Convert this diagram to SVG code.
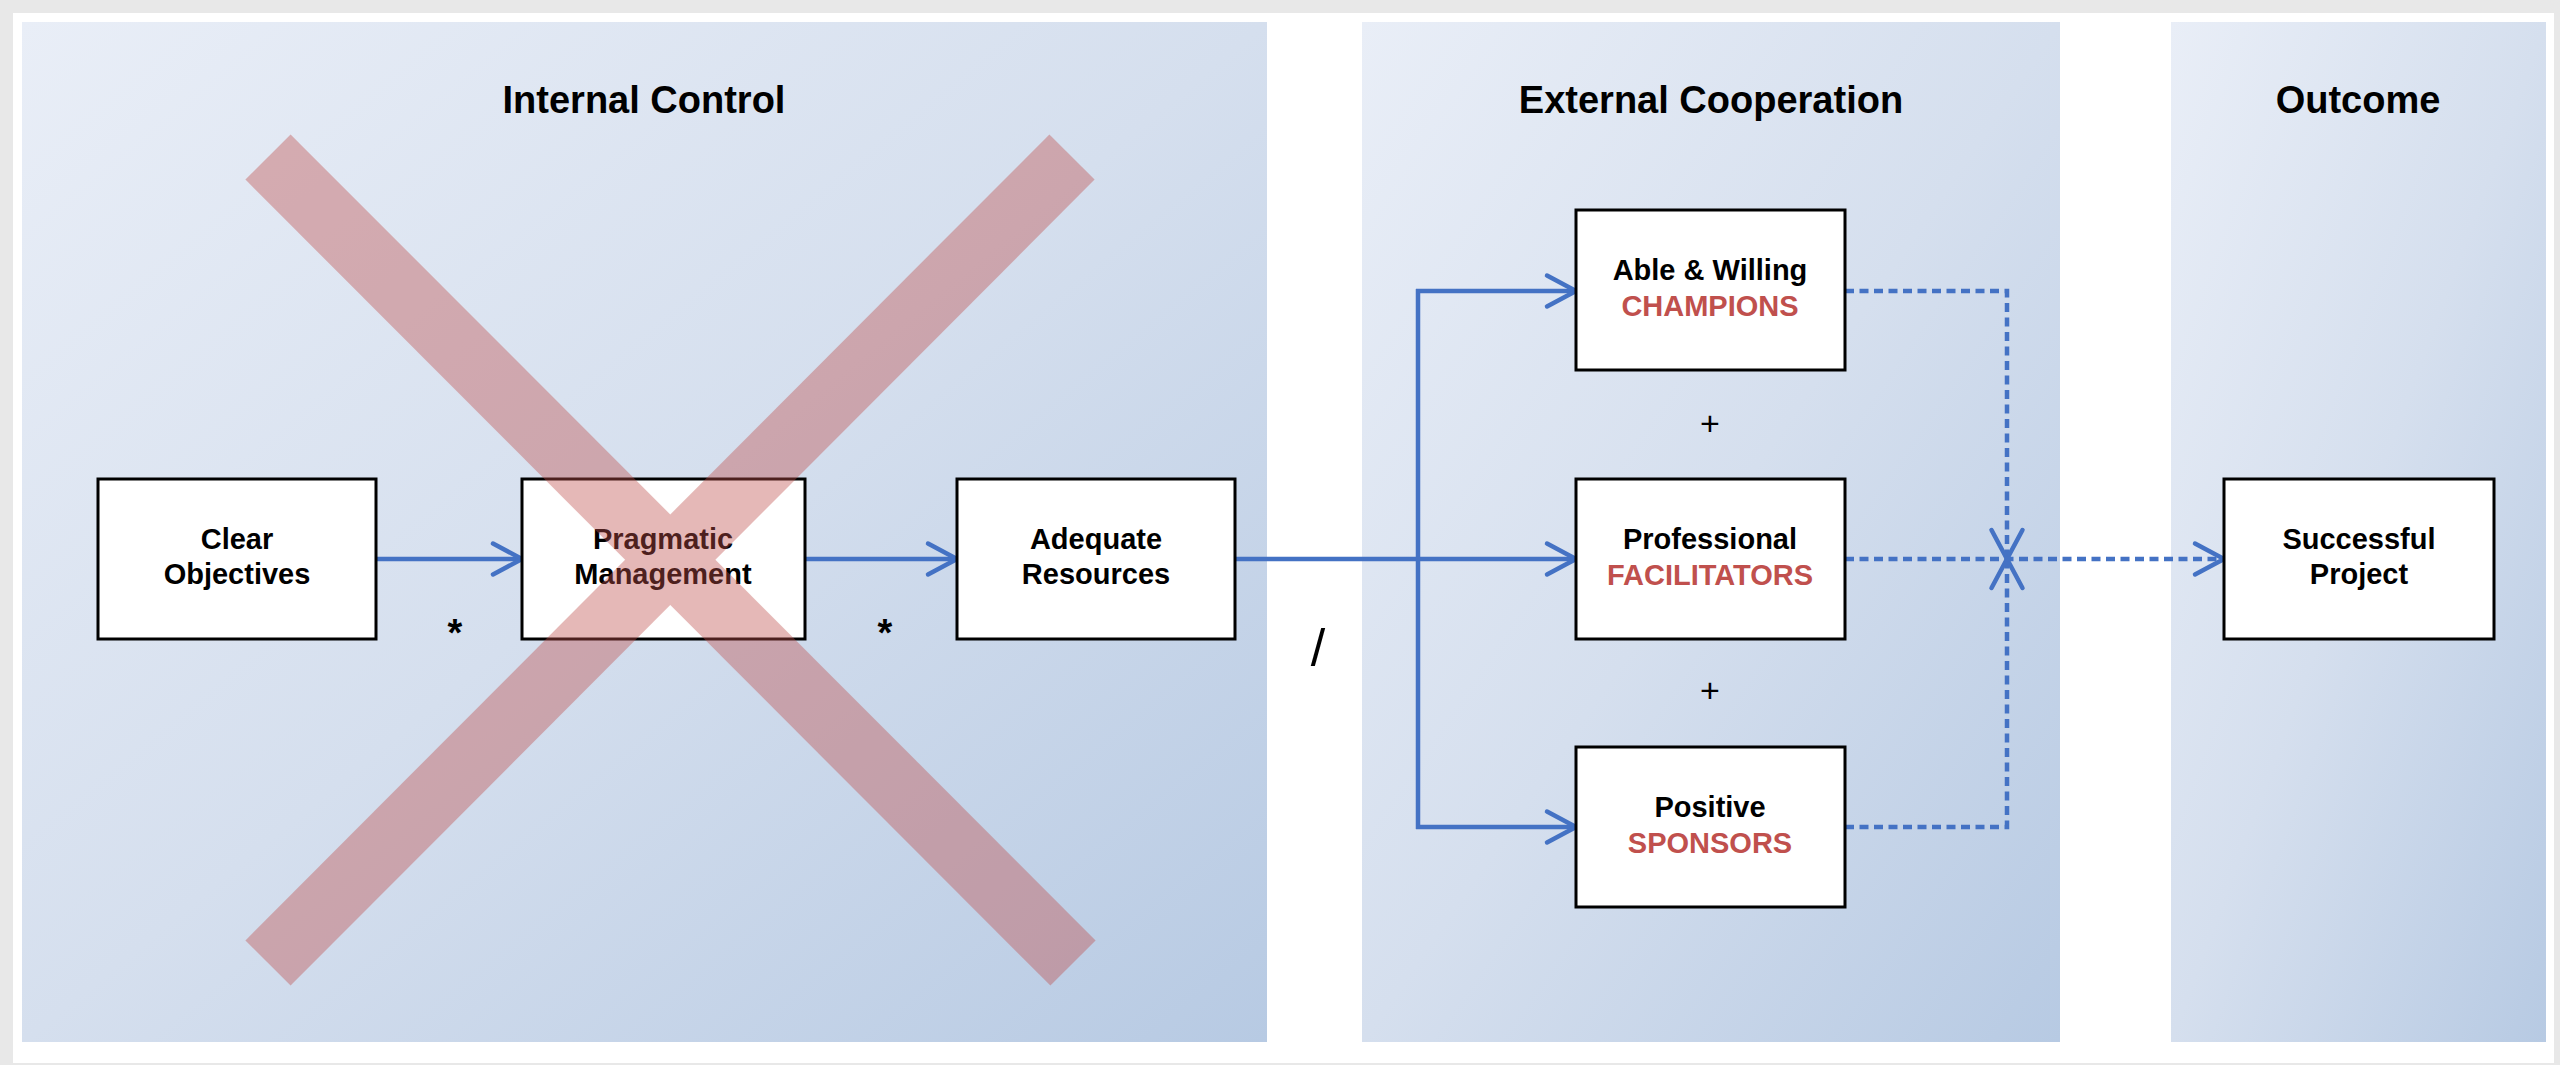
<svg xmlns="http://www.w3.org/2000/svg" width="2560" height="1065" viewBox="0 0 2560 1065">
  <defs>
    <linearGradient id="panelGrad" x1="0" y1="0" x2="1" y2="1">
      <stop offset="0" stop-color="#E9EEF7"/>
      <stop offset="0.5" stop-color="#D5DFEE"/>
      <stop offset="1" stop-color="#B7CAE3"/>
    </linearGradient>
    <marker id="arrow" markerUnits="userSpaceOnUse" markerWidth="44" markerHeight="44" viewBox="-36 -22 44 44" refX="0" refY="0" orient="auto">
      <path d="M-29,-15.5 L0,0 L-29,15.5" fill="none" stroke="#4472C4" stroke-width="4.5" stroke-linecap="round" stroke-linejoin="miter"/>
    </marker>
    <style>
      .panel { fill: url(#panelGrad); }
      .title { font-family: "Liberation Sans", Arial, sans-serif; font-weight: bold; font-size: 38px; fill: #000; text-anchor: middle; }
      .box { fill: #FFFFFF; stroke: #000000; stroke-width: 3; }
      .lbl { font-family: "Liberation Sans", Arial, sans-serif; font-weight: bold; font-size: 29px; fill: #000; text-anchor: middle; }
      .red { fill: #C0504D; }
      .sym { font-family: "Liberation Sans", Arial, sans-serif; font-size: 34px; fill: #000; text-anchor: middle; }
      .ast { font-size: 38px; font-weight: bold; }
      .slash { font-size: 52px; }
      .solid { fill: none; stroke: #4472C4; stroke-width: 4.5; }
      .dash { fill: none; stroke: #4472C4; stroke-width: 4.5; stroke-dasharray: 9 5.5; }
    </style>
  </defs>

  <!-- background frame -->
  <rect x="0" y="0" width="2560" height="1065" fill="#E8E8E8"/>
  <rect x="13" y="13" width="2541" height="1050" fill="#FFFFFF"/>

  <!-- panels -->
  <g id="panel-internal">
    <rect class="panel" x="22" y="22" width="1245" height="1020"/>
    <text class="title" x="644" y="113">Internal Control</text>
  </g>
  <g id="panel-external">
    <rect class="panel" x="1362" y="22" width="698" height="1020"/>
    <text class="title" x="1711" y="113">External Cooperation</text>
  </g>
  <g id="panel-outcome">
    <rect class="panel" x="2171" y="22" width="375" height="1020"/>
    <text class="title" x="2358" y="113">Outcome</text>
  </g>

  <!-- connectors -->
  <g id="connectors">
    <line class="solid" x1="376" y1="559" x2="522" y2="559" marker-end="url(#arrow)"/>
    <line class="solid" x1="805" y1="559" x2="957" y2="559" marker-end="url(#arrow)"/>
    <line class="solid" x1="1235" y1="559" x2="1576" y2="559" marker-end="url(#arrow)"/>
    <line class="solid" x1="1418" y1="289" x2="1418" y2="829"/>
    <line class="solid" x1="1416" y1="291" x2="1576" y2="291" marker-end="url(#arrow)"/>
    <line class="solid" x1="1416" y1="827" x2="1576" y2="827" marker-end="url(#arrow)"/>
    <path class="dash" d="M1845,291 L2007,291 L2007,559" marker-end="url(#arrow)"/>
    <path class="dash" d="M1845,827 L2007,827 L2007,559" marker-end="url(#arrow)"/>
    <line class="dash" x1="1845" y1="559" x2="2224" y2="559" marker-end="url(#arrow)"/>
  </g>

  <!-- nodes -->
  <g id="node-clear-objectives">
    <rect class="box" x="98" y="479" width="278" height="160"/>
    <text class="lbl" x="237" y="549">Clear</text>
    <text class="lbl" x="237" y="584">Objectives</text>
  </g>
  <g id="node-pragmatic-management">
    <rect class="box" x="522" y="479" width="283" height="160"/>
    <text class="lbl" x="663" y="549">Pragmatic</text>
    <text class="lbl" x="663" y="584">Management</text>
  </g>
  <g id="node-adequate-resources">
    <rect class="box" x="957" y="479" width="278" height="160"/>
    <text class="lbl" x="1096" y="549">Adequate</text>
    <text class="lbl" x="1096" y="584">Resources</text>
  </g>
  <g id="node-champions">
    <rect class="box" x="1576" y="210" width="269" height="160"/>
    <text class="lbl" x="1710" y="280">Able &amp; Willing</text>
    <text class="lbl red" x="1710" y="316">CHAMPIONS</text>
  </g>
  <g id="node-facilitators">
    <rect class="box" x="1576" y="479" width="269" height="160"/>
    <text class="lbl" x="1710" y="549">Professional</text>
    <text class="lbl red" x="1710" y="585">FACILITATORS</text>
  </g>
  <g id="node-sponsors">
    <rect class="box" x="1576" y="747" width="269" height="160"/>
    <text class="lbl" x="1710" y="817">Positive</text>
    <text class="lbl red" x="1710" y="853">SPONSORS</text>
  </g>
  <g id="node-successful-project">
    <rect class="box" x="2224" y="479" width="270" height="160"/>
    <text class="lbl" x="2359" y="549">Successful</text>
    <text class="lbl" x="2359" y="584">Project</text>
  </g>

  <!-- operators -->
  <g id="operators">
    <text class="sym ast" x="455" y="646">*</text>
    <text class="sym ast" x="885" y="646">*</text>
    <text class="sym slash" x="1318" y="666">/</text>
    <text class="sym" x="1710" y="435">+</text>
    <text class="sym" x="1710" y="702">+</text>
  </g>

  <!-- cross-out -->
  <g id="cross" opacity="0.4" fill="#C0504D">
    <polygon points="290.6,134.4 1095.6,940.4 1050.4,985.6 245.4,179.6"/>
    <polygon points="1049.4,134.4 1094.6,179.6 290.6,985.6 245.4,940.4"/>
  </g>
</svg>
